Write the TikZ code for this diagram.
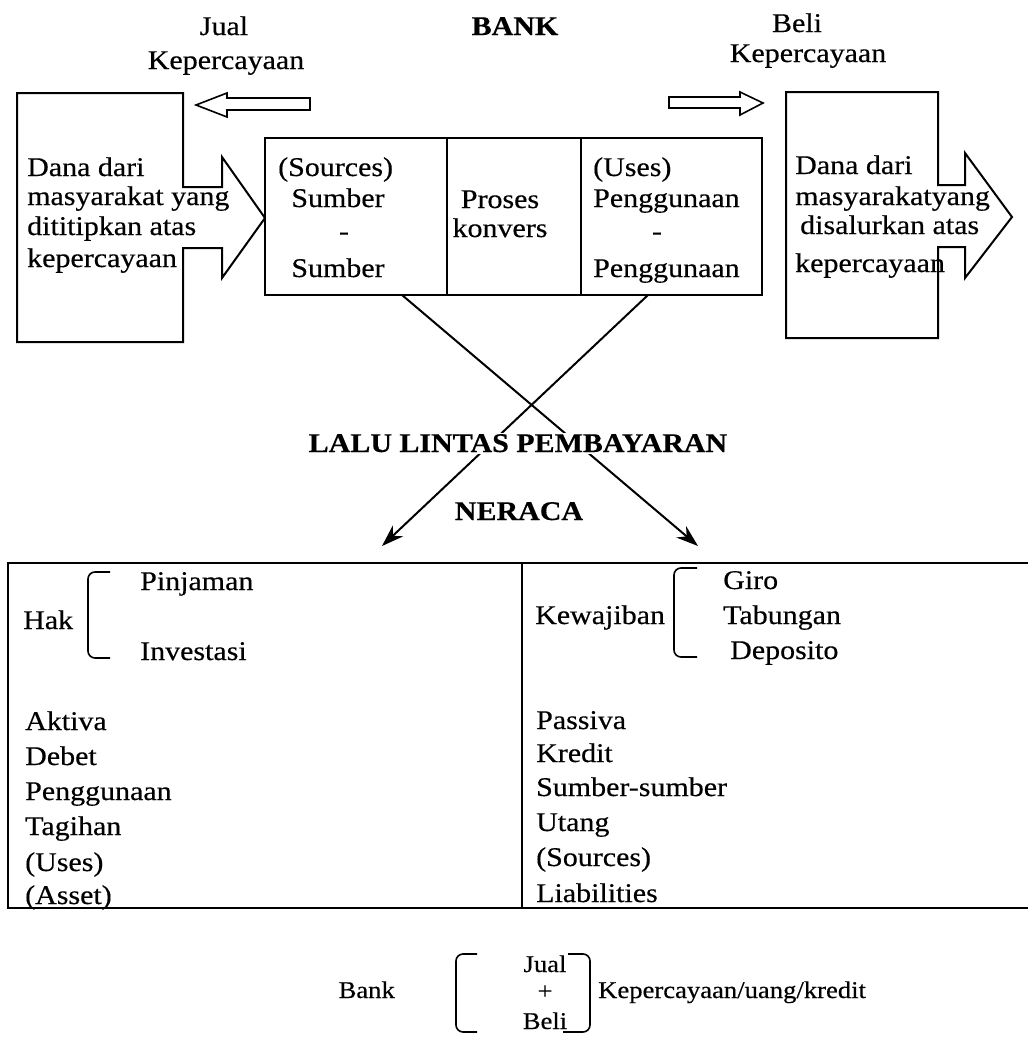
\documentclass[tikz,border=0pt]{standalone}
\usepackage{fontspec}
\setmainfont{Liberation Serif}[FakeStretch=1.11,FakeBold=0.4]
\usetikzlibrary{arrows.meta}
\begin{document}
\begin{tikzpicture}[x=1pt,y=-1pt,
  every node/.style={font=\fontsize{27}{32}\selectfont, inner sep=0pt},
  txt/.style={anchor=base west},
  ctxt/.style={anchor=base},
  small/.style={font=\fontsize{24}{28}\selectfont},
  bold/.style={anchor=base, font=\fontsize{27}{32}\selectfont\bfseries},
  frame/.style={line width=2pt, line join=miter},
  hollow/.style={line width=1.6pt},
  brk/.style={line width=1.6pt, rounded corners=7pt},
  flow/.style={line width=2pt, -{Stealth[length=22pt,width=15pt]}}]
\useasboundingbox (0,0) rectangle (1028,1044);

% top labels
\node[ctxt] (jual) at (224,35) {Jual};
\node[ctxt] (kepL) at (226,69) {Kepercayaan};
\node[bold] (bank) at (515,35) {BANK};
\node[ctxt] (beli) at (797,32) {Beli};
\node[ctxt] (kepR) at (808,62) {Kepercayaan};

% hollow arrows
\draw[hollow] (310,98) -- (227,98) -- (227,93) -- (196,105) -- (227,117) -- (227,110) -- (310,110) -- cycle;
\draw[hollow] (669,97) -- (740,97) -- (740,92) -- (763,103) -- (740,115) -- (740,108) -- (669,108) -- cycle;

% left callout
\draw[frame] (17,93) -- (183,93) -- (183,187) -- (222,187) -- (222,157) -- (265,218)
  -- (222,278) -- (222,248) -- (183,248) -- (183,342) -- (17,342) -- cycle;
\node[txt] (l1) at (27,176) {Dana dari};
\node[txt] (l2) at (27,205) {masyarakat yang};
\node[txt] (l3) at (27,235) {dititipkan atas};
\node[txt] (l4) at (27,267) {kepercayaan};

% right callout
\draw[frame] (786,92) -- (938,92) -- (938,185) -- (965,185) -- (965,153) -- (1012,217)
  -- (965,278) -- (965,247) -- (938,247) -- (938,338) -- (786,338) -- cycle;
\node[txt] (r1) at (795,174) {Dana dari};
\node[txt] (r2) at (795,205) {masyarakatyang};
\node[txt] (r3) at (800,234) {disalurkan atas};
\node[txt] (r4) at (795,272) {kepercayaan};

% middle box
\draw[frame] (265,138) rectangle (762,295);
\draw[frame] (447,138) -- (447,295);
\draw[frame] (581,138) -- (581,295);
\coordinate (srcB) at (402,295);
\coordinate (useB) at (648,295);
\node[txt] (m1) at (278,176) {(Sources)};
\node[ctxt] (m2) at (338,207) {Sumber};
\node[ctxt] (m3) at (344,240) {-};
\node[ctxt] (m4) at (338,277) {Sumber};
\node[ctxt] (p1) at (500,208) {Proses};
\node[ctxt] (p2) at (500,237) {konvers};
\node[txt] (u1) at (593,176) {(Uses)};
\node[txt] (u2) at (593,207) {Penggunaan};
\node[ctxt] (u3) at (657,240) {-};
\node[txt] (u4) at (593,277) {Penggunaan};

% crossing arrows
\coordinate (tipR) at (698,546);
\coordinate (tipL) at (382,546);
\draw[flow] (srcB) -- (tipR);
\draw[flow] (useB) -- (tipL);
\node[bold, fill=white, inner sep=1.5pt] (lalu) at (518,452) {LALU LINTAS PEMBAYARAN};
\node[bold] (neraca) at (519,520) {NERACA};

% table
\draw[frame] (1028,563) -- (8,563) -- (8,908) -- (1028,908);
\draw[frame] (522,563) -- (522,908);

% left column
\node[txt] (hak) at (23,629) {Hak};
\draw[brk] (110,572) -- (88,572) -- (88,658) -- (110,658);
\node[txt] (pin) at (140,590) {Pinjaman};
\node[txt] (inv) at (140,660) {Investasi};
\node[txt] (a1) at (25,730) {Aktiva};
\node[txt] (a2) at (25,765) {Debet};
\node[txt] (a3) at (25,800) {Penggunaan};
\node[txt] (a4) at (25,835) {Tagihan};
\node[txt] (a5) at (25,871) {(Uses)};
\node[txt] (a6) at (25,904) {(Asset)};

% right column
\node[txt] (kew) at (535,624) {Kewajiban};
\draw[brk] (697,568) -- (674,568) -- (674,657) -- (697,657);
\node[txt] (giro) at (723,589) {Giro};
\node[txt] (tab) at (723,624) {Tabungan};
\node[txt] (dep) at (730,659) {Deposito};
\node[txt] (b1) at (536,729) {Passiva};
\node[txt] (b2) at (536,762) {Kredit};
\node[txt] (b3) at (536,796) {Sumber-sumber};
\node[txt] (b4) at (536,831) {Utang};
\node[txt] (b5) at (536,866) {(Sources)};
\node[txt] (b6) at (536,902) {Liabilities};

% bottom
\node[anchor=base east, small] (bk) at (395,998) {Bank};
\draw[brk] (477,954) -- (456,954) -- (456,1032) -- (477,1032);
\draw[brk] (568,954) -- (590,954) -- (590,1032) -- (563,1032);
\node[ctxt, small] (bj) at (545,972) {Jual};
\node[ctxt, small] (bp) at (545,999) {+};
\node[ctxt, small] (bb) at (545,1029) {Beli};
\node[txt, small] (kuk) at (598,998) {Kepercayaan/uang/kredit};
\end{tikzpicture}
\end{document}
